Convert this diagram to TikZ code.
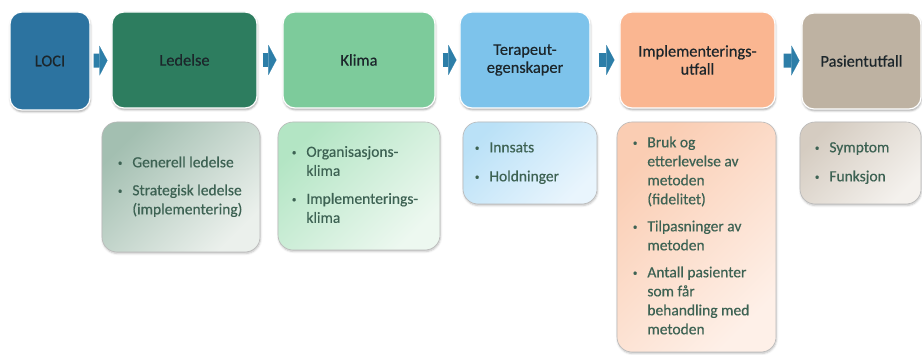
\documentclass[tikz,border=0pt]{standalone}
\usepackage{fontspec}
\setmainfont{Carlito}[FakeBold=0.4]
\usepackage{tikz}
\usetikzlibrary{positioning,arrows.meta,shadows.blur}
\definecolor{locib}{HTML}{2C73A0}
\definecolor{ledg}{HTML}{2D7D5F}
\definecolor{klimag}{HTML}{7DCB9B}
\definecolor{terab}{HTML}{7DC3EB}
\definecolor{implo}{HTML}{FAB691}
\definecolor{pasb}{HTML}{BEB2A2}
\definecolor{ledA}{HTML}{A3BFB1}
\definecolor{ledB}{HTML}{EBF0EC}
\definecolor{klimaA}{HTML}{B3E5C4}
\definecolor{klimaB}{HTML}{EDF8F0}
\definecolor{teraA}{HTML}{BAE1F7}
\definecolor{teraB}{HTML}{E9F5FD}
\definecolor{implA}{HTML}{FACDB3}
\definecolor{implB}{HTML}{FEF0E8}
\definecolor{pasA}{HTML}{D5CCC1}
\definecolor{pasB}{HTML}{F4F1ED}
\definecolor{pilblue}{HTML}{2D7EA8}
\definecolor{toptext}{HTML}{1C262B}
\definecolor{subtext}{HTML}{3D6253}
\newcommand{\pkt}{\raisebox{1.5pt}{\fontsize{9}{9}\selectfont\textbullet}}

\begin{document}
\begin{tikzpicture}[x=1pt, y=1pt,
  every node/.style={align=center, inner sep=0pt, font=\fontsize{16.4}{18}\selectfont},
  topbox/.style={rounded corners=12pt, draw=white, line width=1.2pt, text=toptext,
    minimum height=96pt,
    blur shadow={shadow xshift=0.5pt, shadow yshift=-1.8pt, shadow opacity=35, shadow blur radius=2pt}},
  subbox/.style 2 args={rounded corners=15pt, draw=gray!55, line width=0.6pt,
    top color=#1, bottom color=#2, shading angle=45,
    blur shadow={shadow xshift=0.5pt, shadow yshift=-1.5pt, shadow opacity=25, shadow blur radius=2pt}},
  liste/.style={font=\fontsize{15.5}{19}\selectfont, text=subtext, align=left},
  arrow/.style={line width=14pt, pilblue, -{Triangle[length=8pt, width=30pt, line width=0.1pt]}},
]
  \useasboundingbox (0,0) rectangle (922,-355);

  % hovedboksene
  \node[topbox, fill=locib, minimum width=80pt, minimum height=98pt]
    (loci) at (50,-61) {LOCI};
  \node[topbox, fill=ledg, minimum width=145pt] (ledelse) at (184.5,-60) {Ledelse};
  \node[topbox, fill=klimag, minimum width=152pt] (klima) at (359,-60) {Klima};
  \node[topbox, fill=terab, minimum width=130pt] (terapeut) at (525,-60) {Terapeut-\\egenskaper};
  \node[topbox, fill=implo, minimum width=155pt] (impl) at (697.5,-60) {Implementerings-\\utfall};
  \node[topbox, fill=pasb, minimum width=119pt] (pasient) at (861.5,-61) {Pasientutfall};

  \draw[arrow, shorten <=3pt, shorten >=4pt] (loci) -- (ledelse);
  \draw[arrow, shorten <=5pt, shorten >=6pt] (ledelse) -- (klima);
  \draw[arrow, shorten <=7pt, shorten >=3pt] (klima) -- (terapeut);
  \draw[arrow, shorten <=8pt, shorten >=5pt] (terapeut) -- (impl);
  \draw[arrow, shorten <=8pt, shorten >=2pt] (impl) -- (pasient);

  % underboksene
  \node[subbox={ledA}{ledB}, minimum width=158pt, minimum height=130pt]
    (ledsub) at (181,-187) {};
  \node[subbox={klimaA}{klimaB}, minimum width=162pt, minimum height=128pt]
    (klimasub) at (359,-186) {};
  \node[subbox={teraA}{teraB}, minimum width=134pt, minimum height=82pt]
    (terasub) at (530,-163) {};
  \node[subbox={implA}{implB}, minimum width=159pt, minimum height=230pt]
    (implsub) at (696.5,-237) {};
  \node[subbox={pasA}{pasB}, minimum width=121pt, minimum height=82pt]
    (passub) at (860.5,-163) {};

  \node[liste, right=16pt of ledsub.west] (ledtxt) {%
    \begin{tabular}{@{}l@{\hspace{10pt}}l@{}}
      \pkt & Generell ledelse\\[9pt]
      \pkt & Strategisk ledelse\\
           & (implementering)
    \end{tabular}};
  \node[liste, right=14pt of klimasub.west] (klimatxt) {%
    \begin{tabular}{@{}l@{\hspace{10pt}}l@{}}
      \pkt & Organisasjons-\\
           & klima\\[9pt]
      \pkt & Implementerings-\\
           & klima
    \end{tabular}};
  \node[liste, right=12pt of terasub.west] (teratxt) {%
    \begin{tabular}{@{}l@{\hspace{10pt}}l@{}}
      \pkt & Innsats\\[10pt]
      \pkt & Holdninger
    \end{tabular}};
  \node[liste, right=16pt of implsub.west] (impltxt) {%
    \begin{tabular}{@{}l@{\hspace{10pt}}l@{}}
      \pkt & Bruk og\\
           & etterlevelse av\\
           & metoden\\
           & (fidelitet)\\[8pt]
      \pkt & Tilpasninger av\\
           & metoden\\[8pt]
      \pkt & Antall pasienter\\
           & som får\\
           & behandling med\\
           & metoden
    \end{tabular}};
  \node[liste, right=15pt of passub.west] (pastxt) {%
    \begin{tabular}{@{}l@{\hspace{10pt}}l@{}}
      \pkt & Symptom\\[10pt]
      \pkt & Funksjon
    \end{tabular}};
\end{tikzpicture}
\end{document}
